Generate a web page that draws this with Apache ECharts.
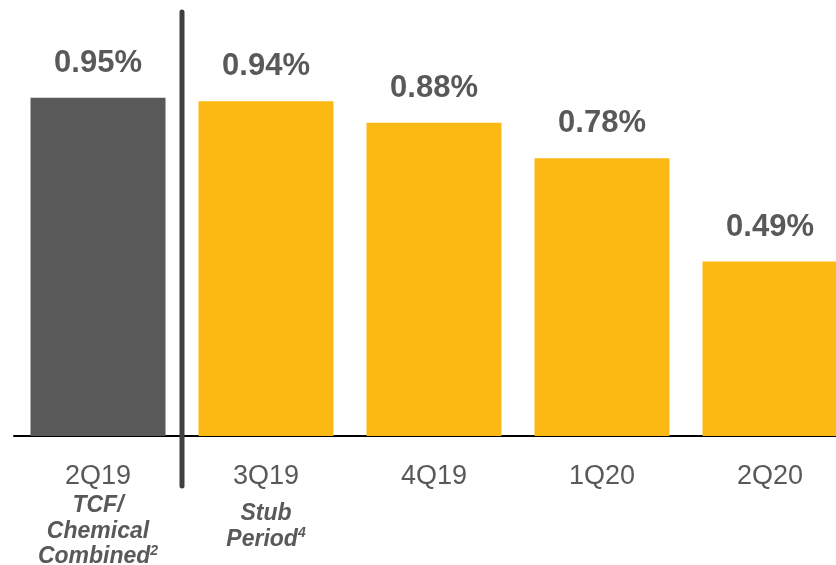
<!DOCTYPE html>
<html>
<head>
<meta charset="utf-8">
<script src="https://cdn.jsdelivr.net/npm/echarts@6/dist/echarts.min.js"></script>
<style>
  html, body { margin: 0; padding: 0; background: #fff; }
  #chart { width: 836px; height: 565px; }
</style>
</head>
<body>
<div id="chart"></div>
<script>
const quarters = ['2Q19', '3Q19', '4Q19', '1Q20', '2Q20'];
const subLines = [['TCF/', 'Chemical', 'Combined'], ['Stub', 'Period'], [], [], []];
const subNotes = ['2', '4', '', '', ''];
const ratios = [0.95, 0.94, 0.88, 0.78, 0.49];

const gray = '#595959';
const yellow = '#FDB913';

const chart = echarts.init(document.getElementById('chart'));

const barData = ratios.map((v, i) => ({
  value: v,
  itemStyle: { color: i === 0 ? gray : yellow }
}));

const subStyle = {
  fontFamily: 'Liberation Sans', fontSize: 23, fontWeight: 'bold',
  fontStyle: 'italic', color: gray, lineHeight: 25.5
};

const option = {
  animation: false,
  grid: { left: 14, right: -18, top: 8.8, bottom: 129, containLabel: false, outerBoundsMode: 'none' },
  xAxis: {
    type: 'category',
    data: quarters,
    axisLine: { lineStyle: { color: '#000', width: 2 } },
    axisTick: { show: false },
    axisLabel: {
      interval: 0,
      margin: 24,
      formatter: (val, idx) => {
        let s = '{q|' + val + '}';
        const lines = subLines[idx];
        if (idx === 1) s += '\n{gap| }';
        lines.forEach((ln, j) => {
          let t = '{s|' + ln + '}';
          if (j === lines.length - 1 && subNotes[idx]) t += '{sup|' + subNotes[idx] + '}';
          s += '\n' + t;
        });
        return s;
      },
      rich: {
        q: { fontFamily: 'Liberation Sans', fontSize: 27, color: gray, lineHeight: 33 },
        gap: { fontSize: 1, lineHeight: 8 },
        s: subStyle,
        sup: Object.assign({}, subStyle, { fontSize: 14, verticalAlign: 'top', padding: [0, 0, 10, 0] })
      }
    }
  },
  yAxis: {
    type: 'value',
    min: 0,
    max: 1.2,
    show: false,
    splitLine: { show: false }
  },
  series: [{
    type: 'bar',
    data: barData,
    barWidth: 135,
    label: {
      show: true,
      position: 'top',
      distance: 19,
      formatter: p => p.value.toFixed(2) + '%',
      fontFamily: 'Liberation Sans',
      fontSize: 31,
      fontWeight: 'bold',
      color: gray
    }
  }]
};

chart.setOption(option);

// divider between the combined quarter and the rest
const x0 = chart.convertToPixel({ xAxisIndex: 0 }, quarters[0]);
const x1 = chart.convertToPixel({ xAxisIndex: 0 }, quarters[1]);
const divX = (x0 + x1) / 2;
chart.setOption({
  graphic: [{
    type: 'line',
    shape: { x1: divX, y1: 12, x2: divX, y2: 486 },
    style: { stroke: '#404040', lineWidth: 5, lineCap: 'round' },
    z: 10
  }]
});
</script>
</body>
</html>
